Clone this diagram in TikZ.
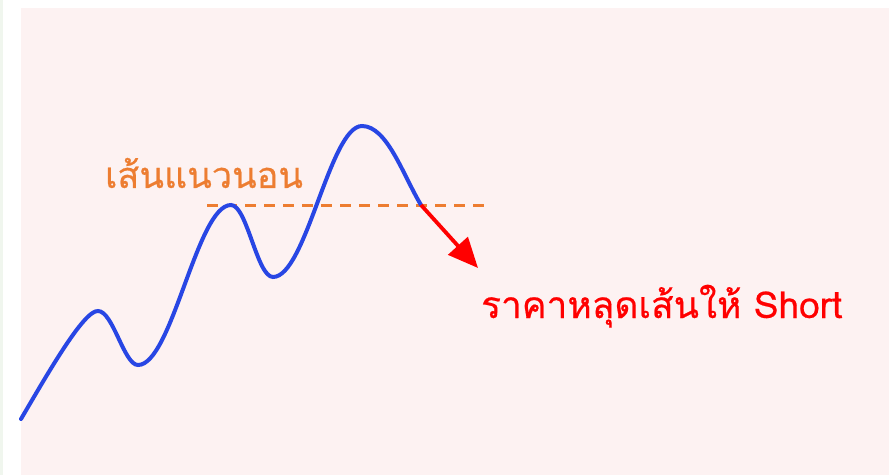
\documentclass[tikz,border=0pt]{standalone}
\usepackage{fontspec}
\usetikzlibrary{arrows.meta}
\newfontfamily\thaifont[Script=Thai,FakeBold=0.5]{Loma}
\definecolor{bgpink}{RGB}{253,242,242}
\definecolor{curveblue}{RGB}{40,70,228}
\definecolor{lineorange}{RGB}{237,125,49}
\definecolor{faintgreen}{RGB}{240,246,238}
\tikzset{
  pricecurve/.style={draw=curveblue,line width=4pt,line cap=round},
  levelline/.style={draw=lineorange,line width=3pt,dash pattern=on 11pt off 8pt},
  breakarrow/.style={draw=red,line width=3.8pt,-{Triangle[length=30pt,width=26pt]}},
}
\begin{document}
\begin{tikzpicture}[x=1pt,y=1pt]
\useasboundingbox (0,0) rectangle (889,475);
\fill[faintgreen] (0,0) rectangle (3,475);
\fill[bgpink] (21,0) rectangle (889,467);
\coordinate (A) at (21,56);
\coordinate (B) at (98,164);
\coordinate (C) at (138,110);
\coordinate (D) at (231,270);
\coordinate (E) at (273,198);
\coordinate (F) at (362,349);
\coordinate (G) at (421,270);
\coordinate (H) at (478,207);
\coordinate (L1) at (207,270);
\coordinate (L2) at (487,270);
\draw[levelline] (L1) -- (L2);
\draw[pricecurve] (A) .. controls (48,102) and (84,165) .. (B)
  .. controls (113,164) and (124,110) .. (C)
  .. controls (172,110) and (197,270) .. (D)
  .. controls (247,270) and (257,198) .. (E)
  .. controls (306,198) and (330,349) .. (F)
  .. controls (387,349) and (403,300) .. (G);
\draw[breakarrow] (G) -- (H);
\node[font=\thaifont\fontsize{36}{42}\selectfont,text=lineorange,inner sep=0pt] (lbl) at (204,302) {เส้นแนวนอน};
\node[font=\thaifont\fontsize{37}{42}\selectfont,text=red,inner sep=0pt,anchor=base west] (short) at (481,157) {ราคาหลุดเส้นให้ Short};
\end{tikzpicture}
\end{document}
